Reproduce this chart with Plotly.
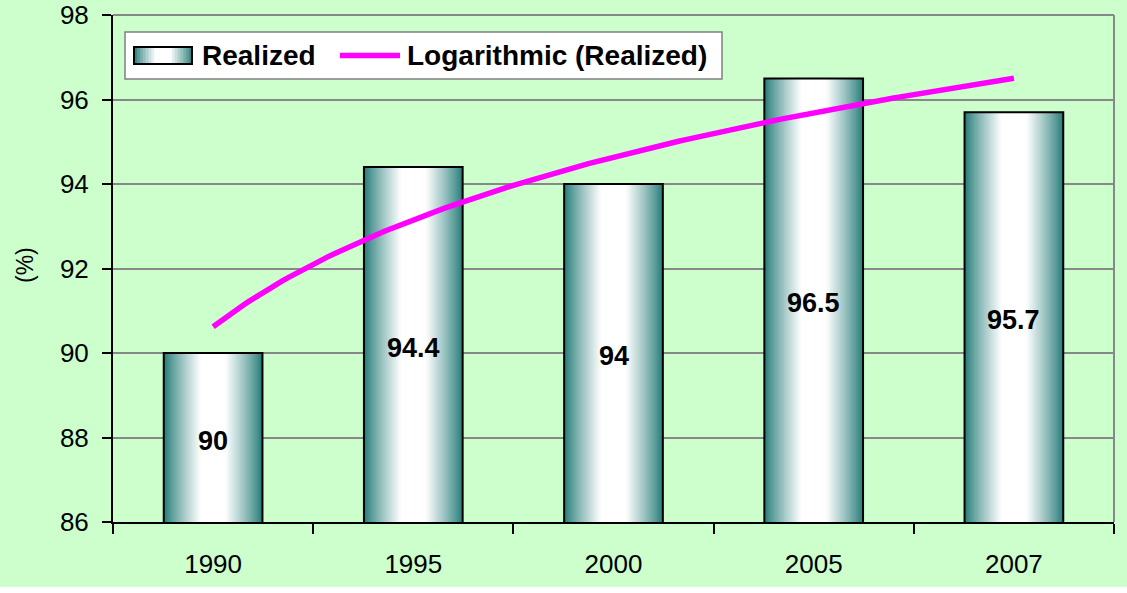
import numpy as np
import plotly.graph_objects as go

# ---- data ----
years = ["1990", "1995", "2000", "2005", "2007"]
realized = [90, 94.4, 94, 96.5, 95.7]
bar_labels = ["90", "94.4", "94", "96.5", "95.7"]
y_ticks = [86, 88, 90, 92, 94, 96, 98]
series_names = ["Realized", "Logarithmic (Realized)"]

Y_MIN, Y_MAX = 86, 98
pos = np.arange(1, len(years) + 1)

# logarithmic trendline fitted to the realized values (as in the original chart)
a, b = np.polyfit(np.log(pos), realized, 1)
x_trend = np.linspace(1, len(years), 161)
y_trend = a * np.log(x_trend) + b

# ---- styling ----
FONT = "Arial, Liberation Sans, sans-serif"
TEAL = np.array([32, 121, 118])
WHITE = np.array([255, 255, 255])
BAR_W = 0.493
N_LAYERS = 28
W, H = 1127, 593
ML, MR, MT, MB = 113, 13, 15, 71
PW, PH = W - ML - MR, H - MT - MB


def grad_color(d):
    """d: 0 at bar edge, 1 at bar centre"""
    t = min(1.0, d / 0.75) ** 0.85
    c = TEAL + (WHITE - TEAL) * t
    return f"rgb({int(c[0])},{int(c[1])},{int(c[2])})"


def px_x(p):
    return (p - ML) / PW


def px_y(p):
    return (H - MB - p) / PH


fig = go.Figure()

# gradient bars: overlaid bars of decreasing width, teal at edges -> white at centre
for k in range(N_LAYERS):
    fig.add_trace(go.Bar(
        x=pos, y=realized, width=BAR_W * (1 - k / N_LAYERS),
        marker=dict(color=grad_color((k + 0.5) / N_LAYERS), line=dict(width=0)),
        showlegend=False, hoverinfo="skip", name=series_names[0],
    ))

# outline of bars
fig.add_trace(go.Bar(
    x=pos, y=realized, width=BAR_W,
    marker=dict(color="rgba(0,0,0,0)", line=dict(color="black", width=2)),
    showlegend=False, hoverinfo="skip", name=series_names[0],
))

# trendline
fig.add_trace(go.Scatter(
    x=x_trend, y=y_trend, mode="lines", name=series_names[1],
    line=dict(color="#FF00FF", width=5.5), showlegend=False, hoverinfo="skip",
))

# ---- legend drawn as shapes + text ----
shapes = [
    dict(type="line", xref="paper", yref="paper", x0=1, x1=1, y0=0, y1=1,
         line=dict(color="#888888", width=2)),
    dict(type="line", xref="paper", yref="paper", x0=0, x1=1, y0=1, y1=1,
         line=dict(color="#888888", width=2)),
    dict(type="rect", xref="paper", yref="paper", x0=-0.2, x1=1.1,
         y0=px_y(587), y1=px_y(600), fillcolor="white", line=dict(width=0)),
    dict(type="rect", xref="paper", yref="paper", x0=px_x(125), x1=px_x(722),
         y0=px_y(79), y1=px_y(32), fillcolor="white",
         line=dict(color="#808080", width=1.5)),
]
sw_l, sw_r, sw_t, sw_b = 134, 192, 47, 64
n_sw = 20
sw_w = (sw_r - sw_l) / n_sw
for i in range(n_sw):
    xc = (i + 0.5) / n_sw
    d = 1 - abs(xc - 0.5) * 2
    shapes.append(dict(type="rect", xref="paper", yref="paper",
                       x0=px_x(sw_l + i * sw_w), x1=px_x(sw_l + (i + 1) * sw_w + 0.6),
                       y0=px_y(sw_b), y1=px_y(sw_t), fillcolor=grad_color(d),
                       line=dict(width=0)))
shapes.append(dict(type="rect", xref="paper", yref="paper", x0=px_x(sw_l), x1=px_x(sw_r),
                   y0=px_y(sw_b), y1=px_y(sw_t), line=dict(color="black", width=2)))
shapes.append(dict(type="line", xref="paper", yref="paper", x0=px_x(340), x1=px_x(400),
                   y0=px_y(55.5), y1=px_y(55.5), line=dict(color="#FF00FF", width=5.5)))

legend_font = dict(family=FONT, size=28, color="black", weight="bold")
annotations = [
    dict(text="(%)", textangle=-90, xref="paper", yref="paper",
         x=px_x(25), y=px_y(265), xanchor="center", yanchor="middle", showarrow=False,
         font=dict(family=FONT, size=23, color="black")),
    dict(text=series_names[0], xref="paper", yref="paper", x=px_x(200), y=px_y(56),
         xanchor="left", yanchor="middle", showarrow=False, font=legend_font),
    dict(text=series_names[1], xref="paper", yref="paper", x=px_x(405), y=px_y(56),
         xanchor="left", yanchor="middle", showarrow=False, font=legend_font),
]
# value labels in the middle of the visible part of each bar
for xp, v, lab in zip(pos, realized, bar_labels):
    annotations.append(dict(
        text=lab, x=xp, y=(v + Y_MIN) / 2, xref="x", yref="y", showarrow=False,
        xanchor="center", yanchor="middle", yshift=-3,
        font=dict(family=FONT, size=27, color="black", weight="bold"),
    ))

fig.update_layout(
    width=W, height=H,
    margin=dict(l=ML, r=MR, t=MT, b=MB, autoexpand=False),
    paper_bgcolor="#CCFFCC", plot_bgcolor="#CCFFCC",
    barmode="overlay", showlegend=False,
    font=dict(family=FONT, color="black"),
    xaxis=dict(
        range=[0.5, len(years) + 0.5], tickvals=pos, ticktext=years,
        ticks="", showgrid=False, zeroline=False, automargin=False,
        showline=True, linecolor="black", linewidth=2,
        tickfont=dict(family=FONT, size=26, color="black"),
        ticklabelstandoff=18,
        minor=dict(ticks="outside", tick0=0.5, dtick=1, ticklen=10,
                   tickwidth=2, tickcolor="black", showgrid=False),
    ),
    yaxis=dict(
        range=[Y_MIN, Y_MAX], tickvals=y_ticks, automargin=False,
        ticks="outside", ticklen=9, tickwidth=2, tickcolor="black",
        showline=True, linecolor="black", linewidth=2,
        showgrid=True, gridcolor="#888888", gridwidth=2, zeroline=False,
        tickfont=dict(family=FONT, size=26, color="black"),
        ticklabelstandoff=8,
    ),
    annotations=annotations,
    shapes=shapes,
)

fig.write_html("out.html", config={"displayModeBar": False},
               post_script="document.body.style.margin='0';")
